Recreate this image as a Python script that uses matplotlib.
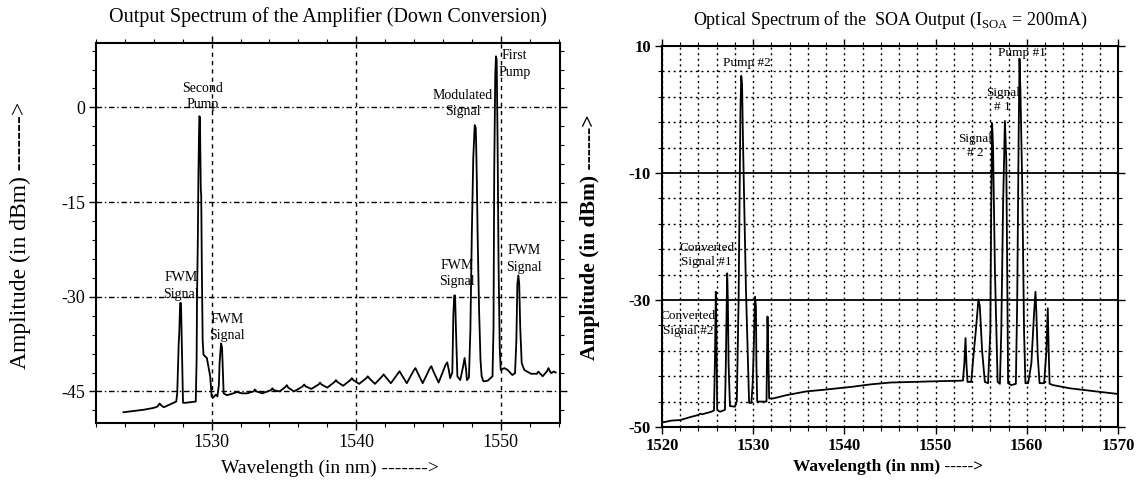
import matplotlib
matplotlib.use('Agg')
import matplotlib.pyplot as plt
from matplotlib.ticker import MultipleLocator, FixedLocator
import numpy as np

plt.rcParams['font.family'] = ['Liberation Serif', 'DejaVu Serif']
plt.rcParams['mathtext.fontset'] = 'custom'
plt.rcParams['mathtext.rm'] = 'Liberation Serif'
plt.rcParams['axes.unicode_minus'] = False

# ---- left panel: output spectrum of the amplifier (down conversion) ----
left_wl = [1523.9, 1525.3, 1526.0, 1526.25, 1526.4, 1526.55, 1526.7, 1527.55, 1527.62, 1527.72,
           1527.76, 1527.82, 1527.88, 1527.92, 1527.96, 1528.02, 1528.2, 1528.9, 1528.96, 1528.99,
           1529.05, 1529.08, 1529.12, 1529.15, 1529.19, 1529.22, 1529.25, 1529.28, 1529.32, 1529.38,
           1529.44, 1529.67, 1529.9, 1530.0, 1530.1, 1530.3, 1530.4, 1530.5, 1530.55, 1530.65,
           1530.72, 1530.78, 1530.83, 1531.06, 1531.5, 1531.75, 1532.1, 1532.45, 1532.9, 1533.0,
           1533.1, 1533.5, 1534.1, 1534.2, 1534.3, 1534.7, 1535.1, 1535.2, 1535.3, 1535.7,
           1536.3, 1536.4, 1536.5, 1536.9, 1537.4, 1537.5, 1537.6, 1538.0, 1538.5, 1538.6,
           1538.7, 1539.1, 1539.6, 1539.7, 1539.8, 1540.2, 1540.7, 1540.8, 1540.9, 1541.3,
           1541.8, 1541.9, 1542.0, 1542.4, 1542.9, 1543.0, 1543.1, 1543.5, 1544.0, 1544.1,
           1544.2, 1544.6, 1545.1, 1545.2, 1545.3, 1545.7, 1546.2, 1546.3, 1546.4, 1546.5,
           1546.65, 1546.72, 1546.78, 1546.84, 1546.9, 1547.0, 1547.2, 1547.4, 1547.5, 1547.6,
           1547.66, 1547.8, 1547.9, 1548.0, 1548.1, 1548.2, 1548.27, 1548.3, 1548.35, 1548.4,
           1548.5, 1548.6, 1548.68, 1548.8, 1549.1, 1549.43, 1549.5, 1549.55, 1549.62, 1549.67,
           1549.72, 1549.78, 1549.85, 1549.93, 1550.0, 1550.25, 1550.48, 1550.8, 1550.99, 1551.08,
           1551.15, 1551.22, 1551.28, 1551.35, 1551.45, 1551.63, 1552.1, 1552.5, 1552.6, 1552.7,
           1552.9, 1553.2, 1553.3, 1553.4, 1553.5, 1553.67, 1553.8]
left_db = [-48.3, -47.9, -47.6, -47.4, -46.9, -47.3, -47.5, -46.6, -45.3, -37.5,
           -35.8, -31.0, -31.0, -35.3, -40.0, -46.8, -46.8, -46.6, -40.0, -30.0,
           -20.0, -12.0, -5.0, -1.4, -1.6, -8.0, -13.0, -14.0, -25.0, -37.0,
           -39.2, -39.7, -42.6, -45.8, -46.0, -45.5, -45.8, -44.0, -40.5, -37.4,
           -38.0, -42.0, -45.3, -45.6, -45.3, -45.1, -45.3, -45.3, -45.0, -44.7,
           -45.0, -45.3, -44.8, -44.5, -44.8, -45.0, -44.3, -44.0, -44.4, -45.0,
           -44.2, -43.9, -44.2, -44.6, -43.9, -43.6, -43.9, -44.4, -43.5, -43.2,
           -43.5, -44.1, -43.2, -42.9, -43.2, -43.8, -42.9, -42.6, -42.9, -43.8,
           -42.6, -42.3, -42.6, -43.7, -42.1, -41.8, -42.2, -43.7, -41.6, -41.3,
           -41.8, -43.7, -41.3, -41.0, -41.6, -43.6, -40.7, -40.4, -41.5, -42.9,
           -42.0, -33.0, -29.8, -29.8, -35.0, -42.6, -43.2, -41.0, -39.7, -41.5,
           -43.2, -42.8, -35.3, -20.0, -8.0, -2.8, -3.2, -6.0, -12.0, -20.0,
           -32.0, -40.0, -42.6, -43.4, -43.3, -42.6, -35.0, -10.0, 5.0, 8.1,
           7.5, -5.0, -25.0, -38.0, -41.6, -41.3, -41.6, -42.4, -42.1, -37.0,
           -28.0, -26.6, -28.0, -35.0, -40.5, -41.6, -42.2, -42.2, -41.85, -42.1,
           -42.6, -41.8, -41.3, -41.8, -42.1, -41.85, -42.0]

left_labels = ['Second\nPump', 'FWM\nSignal', 'FWM\nSignal', 'Modulated\nSignal',
               'First\nPump', 'FWM\nSignal', 'FWM\nSignal']
left_label_wl = [1529.37, 1527.9, 1531.08, 1547.4, 1550.93, 1546.97, 1551.6]
left_label_db = [1.7, -28.3, -34.9, 0.6, 6.85, -26.3, -24.0]

# ---- right panel: optical spectrum of the SOA output ----
right_wl = [1520.0, 1521.0, 1522.0, 1523.2, 1524.0, 1524.2, 1524.4, 1525.4, 1525.7, 1525.8,
            1525.9, 1525.97, 1526.05, 1526.35, 1526.9, 1527.0, 1527.1, 1527.15, 1527.22, 1527.3,
            1527.45, 1528.0, 1528.2, 1528.4, 1528.6, 1528.69, 1528.78, 1528.88, 1529.2, 1529.55,
            1529.8, 1529.95, 1530.05, 1530.2, 1530.3, 1530.35, 1530.44, 1531.46, 1531.52, 1531.57,
            1531.65, 1531.75, 1532.2, 1533.6, 1535.8, 1538.0, 1540.95, 1542.8, 1545.0, 1547.5,
            1550.0, 1553.0, 1553.15, 1553.28, 1553.38, 1553.5, 1553.9, 1554.2, 1554.4, 1554.7,
            1554.85, 1555.1, 1555.4, 1555.75, 1556.0, 1556.1, 1556.2, 1556.3, 1556.5, 1556.8,
            1557.05, 1557.2, 1557.4, 1557.6, 1557.75, 1557.85, 1557.95, 1558.3, 1558.8, 1558.95,
            1559.1, 1559.2, 1559.3, 1559.5, 1559.7, 1559.85, 1560.15, 1560.5, 1560.8, 1560.95,
            1561.05, 1561.2, 1561.4, 1561.9, 1562.15, 1562.3, 1562.4, 1562.5, 1562.86, 1564.7,
            1567.6, 1570.0]
right_db = [-49.3, -49.0, -48.9, -48.4, -48.1, -47.9, -48.0, -47.6, -47.4, -40.0,
            -28.7, -35.0, -47.3, -47.6, -47.3, -40.0, -30.0, -25.8, -30.0, -40.0,
            -46.7, -46.8, -46.0, -30.0, 0.0, 5.3, 4.0, -5.0, -28.0, -46.2,
            -46.2, -43.0, -38.0, -29.5, -31.0, -40.0, -46.0, -46.0, -38.0, -32.6,
            -38.0, -45.5, -45.5, -45.0, -44.4, -44.1, -43.65, -43.3, -43.0, -42.9,
            -42.8, -42.7, -40.0, -36.0, -40.0, -42.9, -42.9, -38.0, -35.0, -29.9,
            -31.0, -38.0, -42.9, -43.1, -35.0, -15.0, -2.2, -6.0, -25.0, -42.9,
            -43.2, -35.0, -15.0, -1.8, -8.0, -25.0, -43.1, -43.4, -43.2, -30.0,
            -5.0, 8.0, 3.0, -12.0, -35.0, -43.1, -43.1, -40.0, -32.0, -28.7,
            -32.0, -38.9, -43.1, -43.1, -38.0, -31.3, -38.0, -43.2, -43.4, -43.9,
            -44.4, -44.8]

right_labels = ['Pump #2', 'Pump #1', 'Signal\n# 1', 'Signal\n# 2',
                'Converted\nSignal #1', 'Converted\nSignal #2']
right_label_wl = [1529.28, 1559.45, 1557.35, 1554.3, 1524.9, 1522.9]
right_label_db = [7.4, 8.85, 1.5, -5.75, -22.9, -33.7]

W, H = 1137, 484
fig = plt.figure(figsize=(W / 100, H / 100), dpi=100)

# ---------------- left ----------------
ax1 = fig.add_axes([96 / W, 1 - 423 / H, 464 / W, 380 / H])
ax1.plot(left_wl, left_db, color='black', lw=1.3)
ax1.set_xlim(1522, 1554.1)
ax1.set_ylim(-50, 10.2)
ax1.xaxis.set_major_locator(FixedLocator([1530, 1540, 1550]))
ax1.xaxis.set_minor_locator(MultipleLocator(2))
ax1.yaxis.set_major_locator(FixedLocator([0, -15, -30, -45]))
ax1.yaxis.set_minor_locator(MultipleLocator(3))
ax1.tick_params(which='both', direction='out', top=True, right=True, labelsize=13, pad=3)
ax1.tick_params(which='major', length=5, width=1)
ax1.tick_params(which='minor', length=3, width=0.8)
ax1.grid(which='major', axis='y', color='black', ls=(0, (4, 2, 1, 2)), lw=1)
ax1.grid(which='major', axis='x', color='black', ls=(0, (3, 3)), lw=1)
for s in ax1.spines.values():
    s.set_linewidth(1.5)
for txt, x, y in zip(left_labels, left_label_wl, left_label_db):
    ax1.text(x, y, txt, ha='center', va='center', fontsize=10, linespacing=1.35)

fig.text(328 / W, 1 - 17 / H, 'Output Spectrum of the Amplifier (Down Conversion)',
         ha='center', va='center', fontsize=14.5)
fig.text(330 / W, 1 - 468 / H, 'Wavelength (in nm) ------->',
         ha='center', va='center', fontsize=14)
fig.text(20 / W, 1 - 235 / H, 'Amplitude (in dBm) ------->',
         ha='center', va='center', fontsize=17, rotation=90)

# ---------------- right ----------------
ax2 = fig.add_axes([662 / W, 1 - 427 / H, 456 / W, 381 / H])
ax2.plot(right_wl, right_db, color='black', lw=1.3)
ax2.set_xlim(1520, 1570)
ax2.set_ylim(-50, 10)
ax2.xaxis.set_major_locator(MultipleLocator(10))
ax2.xaxis.set_minor_locator(MultipleLocator(2))
ax2.yaxis.set_major_locator(FixedLocator([10, -10, -30, -50]))
ax2.yaxis.set_minor_locator(FixedLocator(np.arange(-50, 11, 4)))
ax2.tick_params(which='both', direction='out', top=True, right=True, labelsize=12, pad=3)
ax2.tick_params(which='major', length=5, width=1)
ax2.tick_params(which='minor', length=3, width=0.8)
for lab in ax2.get_xticklabels() + ax2.get_yticklabels():
    lab.set_fontweight('bold')
ax2.grid(which='both', axis='x', color='black', ls=(0, (1.5, 2.5)), lw=1)
ax2.grid(which='minor', axis='y', color='black', ls=(0, (1.5, 2.5)), lw=1)
ax2.grid(which='major', axis='y', color='black', ls='-', lw=1.3)
for s in ax2.spines.values():
    s.set_linewidth(1.5)
for txt, x, y in zip(right_labels, right_label_wl, right_label_db):
    ax2.text(x, y, txt, ha='center', va='center', fontsize=9.5, linespacing=1.3)

fig.text(890 / W, 1 - 20 / H,
         r'Optical Spectrum of the  SOA Output (I$_{\mathrm{SOA}}$ = 200mA)',
         ha='center', va='center', fontsize=13)
fig.text(888 / W, 1 - 467 / H, 'Wavelength (in nm) ----->',
         ha='center', va='center', fontsize=12.5, fontweight='bold')
fig.text(590 / W, 1 - 237 / H, 'Amplitude (in dBm) ------>',
         ha='center', va='center', fontsize=15.5, fontweight='bold', rotation=90)

fig.savefig('out.png', dpi=100)
